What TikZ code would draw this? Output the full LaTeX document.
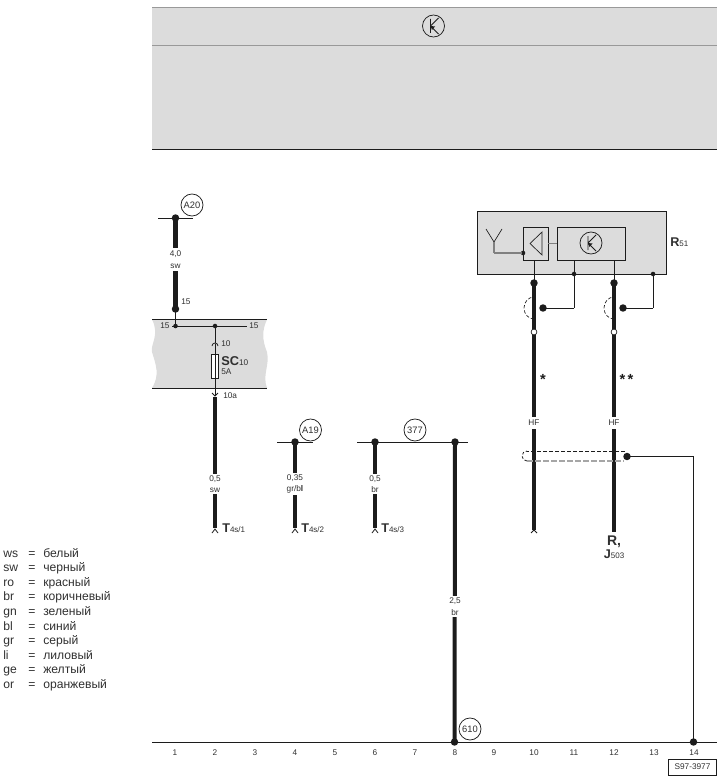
\documentclass[tikz,border=0pt]{standalone}
\usepackage{fontspec}
\setmainfont{Liberation Sans}
\usetikzlibrary{calc}
\definecolor{band}{HTML}{DCDCDC}
\definecolor{ink}{HTML}{1C1C1C}
\definecolor{txt}{HTML}{303030}
\newcommand{\fa}{\fontsize{6}{6.5}\selectfont}
\newcommand{\fb}{\fontsize{6.2}{7}\selectfont}
\newcommand{\fc}{\fontsize{9.1}{10}\selectfont}
\newcommand{\fd}{\fontsize{9.5}{10}\selectfont}
\newcommand{\fe}{\fontsize{9.6}{12}\selectfont}
\tikzset{
  bigdot/.style={circle,fill=ink,draw=none,inner sep=0pt,minimum size=5.6pt,outer sep=-1.2pt},
  smalldot/.style={circle,fill=ink,draw=none,inner sep=0pt,minimum size=3.4pt,outer sep=-.6pt},
  hollowdot/.style={circle,fill=white,draw=ink,line width=.5pt,inner sep=0pt,minimum size=4.4pt},
  pt/.style={inner sep=0pt,minimum size=0pt,outer sep=0pt},
  thick wire/.style={draw=ink,line width=3.6pt},
  mid wire/.style={draw=ink,line width=3pt},
  thin wire/.style={draw=ink,line width=.7pt},
  wirelab/.style={fill=white,inner sep=1.2pt,text=txt,font=\fb,align=center,text width=13pt},
  num/.style={inner sep=0pt,text=txt,font=\fb},
  ref/.style={circle,draw=ink,line width=.55pt,inner sep=0pt,minimum size=16.5pt,text=txt,font=\fontsize{7}{8}\selectfont,fill=white},
  legend/.style={inner sep=0pt,anchor=base west,text=txt,font=\fc},
  hook/.style={draw=ink,line width=.6pt},
}
\begin{document}
\begin{tikzpicture}[x=.75pt,y=-.75pt]
\useasboundingbox (0,0) rectangle (726,781);
% top band
\fill[band] (152,7) rectangle (717,149);
\draw[line width=.7pt,color=gray!80] (152,7) -- (717,7);
\draw[line width=.7pt,color=gray!80] (152,45.5) -- (717,45.5);
\draw[line width=.8pt,color=ink] (152,149.5) -- (717,149.5);
\node[circle,draw=ink,line width=.55pt,inner sep=0pt,minimum size=16.5pt] (topsym) at (433.5,26) {};
\draw[ink,line width=.7pt] (430.5,19) -- (430.5,33) (430.5,26) -- (438.5,18) (430.5,26) -- (438.5,34);
\fill[ink] (430.5,26) -- (435,26.5) -- (432,30) -- cycle;
% fuse band
\fill[band] (152,319.5) .. controls (160,335) and (150,345) .. (152,352) .. controls (156,365) and (160,375) .. (152,388)
  -- (267,388) .. controls (262,375) and (270,365) .. (267,352) .. controls (262,340) and (262,330) .. (267,319.5) -- cycle;
\draw[thin wire] (152,319.5) -- (267,319.5) (152,388) -- (267,388);
% bus 1
\node[pt] (a20l) at (158,218) {};
\node[pt] (a20r) at (193,218) {};
\node[bigdot] (a20d) at (175.5,218) {};
\node[bigdot] (a20e) at (175.5,309) {};
\node[ref] (a20) at (192,205) {A20};
\draw[thin wire] (a20l) -- (a20r);
\draw[thick wire] (a20d) -- (a20e);
\node[wirelab,inner ysep=2.5pt] (w40) at (175.5,259.5) {4,0\\[1.5pt]sw};
\node[num,anchor=west] (n15a) at (181,302) {15};
\node[smalldot] (f1) at (175.5,326) {};
\node[smalldot] (f2) at (215,326) {};
\node[num,anchor=west] (n15b) at (160,326) {15};
\node[num,anchor=west] (n15c) at (249,326) {15};
\node[pt] (f3) at (246.5,326) {};
\node[pt] (f0) at (172,326) {};
\draw[thin wire] (a20e) -- (f1);
\draw[thin wire] (f0) -- (f3);
\node[pt] (f4) at (215,343) {};
\draw[thin wire] (f2) -- (f4);
\draw[hook] (212,346) arc[start angle=180,end angle=360,radius=3];
\node[draw=ink,line width=.6pt,fill=white,minimum width=5pt,minimum height=18.5pt,inner sep=0pt] (fuse) at (215,366.5) {};
\node[pt] (f5) at (215,344) {};
\node[pt] (f6) at (215,396) {};
\draw[thin wire] (f5) -- (fuse.north);
\draw[thin wire] (fuse.south) -- (f6);
\draw[thin wire] (fuse.north) -- (fuse.south);
\draw[hook] (212,393) -- (215,396) -- (218,393);
\node[num,anchor=west] (n10) at (221,344) {10};
\node[inner sep=0pt,anchor=base west,text=txt] (sc) at (221,365) {\fe\textbf{SC}\fb 10};
\node[num,anchor=base west] (n5a) at (221,374) {5A};
\node[num,anchor=west] (n10a) at (223,396) {10a};
% T4s/1
\node[pt] (w1t) at (215,397) {};
\node[pt] (w1b) at (215,528) {};
\draw[mid wire] (w1t) -- (w1b);
\node[wirelab] (w05) at (215,484) {0,5\\[1.5pt]sw};
\draw[hook] (212,533) -- (215,529) -- (218,533);
\node[inner sep=0pt,anchor=base west,text=txt] (t1) at (222,532) {\fd\textbf{T}\fa 4s/1};
% A19
\node[pt] (a19l) at (277,442) {};
\node[pt] (a19r) at (313,442) {};
\node[bigdot] (a19d) at (295,442) {};
\node[ref] (a19) at (310.5,430) {A19};
\draw[thin wire] (a19l) -- (a19r);
\node[pt] (w2b) at (295,528) {};
\draw[mid wire] (a19d) -- (w2b);
\node[wirelab,text width=20pt] (w035) at (295,484) {0,35\\[1.5pt]gr/b{\bfseries l}};
\draw[hook] (292,533) -- (295,529) -- (298,533);
\node[inner sep=0pt,anchor=base west,text=txt] (t2) at (301,532) {\fd\textbf{T}\fa 4s/2};
% 377
\node[pt] (b377l) at (357,442) {};
\node[pt] (b377r) at (468,442) {};
\node[bigdot] (b377a) at (375,442) {};
\node[bigdot] (b377b) at (455,442) {};
\node[ref] (r377) at (415,430) {377};
\draw[thin wire] (b377l) -- (b377r);
\node[pt] (w3b) at (375,528) {};
\draw[mid wire] (b377a) -- (w3b);
\node[wirelab] (w05b) at (375,484) {0,5\\[1.5pt]br};
\draw[hook] (372,533) -- (375,529) -- (378,533);
\node[inner sep=0pt,anchor=base west,text=txt] (t3) at (381,532) {\fd\textbf{T}\fa 4s/3};
% wire 8
\node[bigdot] (g8) at (454.5,742) {};
\draw[mid wire] (b377b) -- (g8);
\node[wirelab] (w25) at (455,606.5) {2,5\\[1.5pt]br};
\node[ref] (r610) at (470,729) {610};
% bottom line
\node[pt] (gl) at (152,742.5) {};
\node[pt] (gr) at (717,742.5) {};
\draw[thin wire] (gl) -- (gr);
\foreach \i/\x in {1/175,2/215,3/255,4/295,5/335,6/375,7/415,8/455,9/494,10/534,11/574,12/614,13/654,14/694}
  \node[num] (col\i) at (\x,752.5) {\i};
\node[draw=ink,line width=.55pt,inner sep=0pt,minimum width=35.5pt,minimum height=12pt,text=txt,font=\fb] (stamp) at (692.5,767) {S97-3977};
% R51
\fill[band] (477,211) rectangle (666,274);
\node[draw=ink,line width=.7pt,fill=none,minimum width=141.75pt,minimum height=47.25pt,inner sep=0pt] (r51) at (571.5,242.5) {};
\node[inner sep=0pt,anchor=base west,text=txt] (r51t) at (670,246) {\fd\textbf{R}\fa 51};
\node[draw=ink,line width=.7pt,minimum width=18.75pt,minimum height=24.75pt,inner sep=0pt] (amp) at (535.5,243.5) {};
\node[draw=ink,line width=.7pt,minimum width=51pt,minimum height=24.75pt,inner sep=0pt] (rec) at (591,243.5) {};
\draw[gray,line width=.7pt] (amp.east) -- (rec.west);
\draw[ink,line width=.5pt] (542,232) -- (542,255) -- (530,243.5) -- cycle;
\node[circle,draw=ink,line width=.55pt,inner sep=0pt,minimum size=16.5pt] (sym) at (591,243) {};
\draw[ink,line width=.7pt] (588,236) -- (588,250) (588,243) -- (596,235) (588,243) -- (596,251);
\fill[ink] (588,243) -- (592.5,243.5) -- (589.5,247) -- cycle;
% antenna
\node[smalldot] (antd) at (523,253) {};
\node[pt] (anta) at (494,242) {};
\node[pt] (antc) at (494,253) {};
\draw[ink,line width=.5pt] (486,229) -- (anta) -- (502,229);
\draw[gray,line width=.8pt] (anta) -- (antc) -- (antd);
% HF wires
\node[bigdot] (h1) at (534,283) {};
\node[bigdot] (h2) at (614,283) {};
\node[pt] (h1t) at (534,260) {};
\node[pt] (h2t) at (614,260) {};
\node[pt] (h1b) at (534,530) {};
\node[pt] (h2b) at (614,532) {};
\draw[thin wire] (h1t) -- (h1);
\draw[thin wire] (h2t) -- (h2);
\draw[thick wire] (h1) -- (h1b);
\draw[thick wire] (h2) -- (h2b);
\draw[hook] (531,533) -- (534,530) -- (537,533);
\node[hollowdot] (w1) at (534,332) {};
\node[hollowdot] (w2) at (614,332) {};
\node[wirelab,text width=12pt,inner sep=2pt] (hf1) at (534,423) {HF};
\node[wirelab,text width=12pt,inner sep=2pt] (hf2) at (614,423) {HF};
% screens
\draw[ink,line width=.5pt,dash pattern=on 2.5pt off 1.5pt] (534,319) arc[start angle=90,end angle=270,x radius=10,y radius=11];
\draw[ink,line width=.5pt,dash pattern=on 2.5pt off 1.5pt] (614,319) arc[start angle=90,end angle=270,x radius=10,y radius=11];
\node[bigdot] (s1) at (543,308) {};
\node[bigdot] (s2) at (623,308) {};
\node[smalldot] (j1) at (574,274) {};
\node[smalldot] (j2) at (653,274) {};
\node[pt] (c1) at (574,308) {};
\node[pt] (c2) at (653,308) {};
\node[pt] (j1t) at (574,260) {};
\draw[thin wire] (s1) -- (c1) -- (j1) -- (j1t);
\draw[thin wire] (s2) -- (c2) -- (j2);
\node[inner sep=0pt,text=ink,font=\fontsize{11}{12}\selectfont\bfseries] (star1) at (543,379) {*};
\node[inner sep=0pt,text=ink,font=\fontsize{11}{12}\selectfont\bfseries] (star2) at (626.5,379) {*\,*};
% shared screen
\node[bigdot] (s3) at (627,456.5) {};
\node[pt] (c3) at (693.5,456.5) {};
\node[bigdot] (g14) at (693.5,742) {};
\draw[thin wire] (s3) -- (c3) -- (g14);
\draw[ink,line width=.6pt,dash pattern=on 3pt off 1.5pt] (625,451) -- (527,451);
\draw[ink,line width=.6pt,dash pattern=on 2pt off 1.5pt] (527,461) arc[start angle=90,end angle=270,radius=5];
\draw[gray!70,line width=.9pt,dash pattern=on 4.5pt off 1.5pt] (527,461) -- (624,461);
% end labels
\node[inner sep=0pt,anchor=base,text=txt,font=\fontsize{10.5}{12}\selectfont\bfseries] (rc) at (614,545) {R,};
\node[inner sep=0pt,anchor=base,text=txt] (j503) at (614,558) {\fd\textbf{J}\fa 503};
% legend
\foreach \a/\b/\y in {ws/белый/557,sw/черный/571.5,ro/красный/586,br/коричневый/600.5,gn/зеленый/615,bl/синий/630,gr/серый/644.5,li/лиловый/659,ge/желтый/673.5,or/оранжевый/688}{
  \node[legend] (la\a) at (3,\y) {\a};
  \node[legend] (le\a) at (28,\y) {=};
  \node[legend] (lb\a) at (43,\y) {\b};
}
\end{tikzpicture}
\end{document}
